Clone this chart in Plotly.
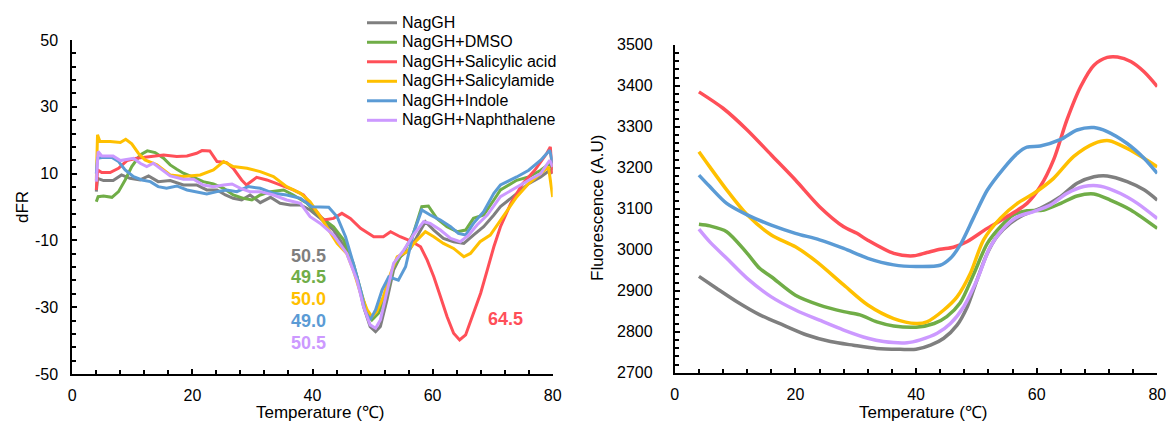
import plotly.graph_objects as go

W, H = 1167, 425

series_names = ["NagGH", "NagGH+DMSO", "NagGH+Salicylic acid",
                "NagGH+Salicylamide", "NagGH+Indole", "NagGH+Naphthalene"]
series_colors = ["#7f7f7f", "#70ad47", "#ff4f58", "#ffc000", "#5b9bd5", "#cc99ff"]

# ---------- Left panel: dFR vs temperature ----------
dfr_t_gray = [4, 4.2, 5.2, 6.8, 8.2, 9.6, 11.3, 12.7, 14.3, 16.3, 18.5, 20.7, 22.4, 24.1, 25.5, 26.8, 28.2, 29.6, 31.3, 33, 34.6, 36.3, 38, 39.6, 41.3, 43.5, 45.7, 47.4, 48.5, 49.6, 50.5, 51.3, 52.4, 53.5, 54.6, 56.3, 57.7, 58.8, 60.2, 61.8, 63.5, 65.2, 66.8, 68.5, 70.2, 71.3, 74, 76, 78, 79.5, 80]
dfr_gray = [4.6, 8.6, 7.9, 7.9, 9.6, 8.6, 8.1, 9.3, 7.6, 7.9, 6.6, 6.6, 5.1, 5.1, 3.6, 2.6, 2.1, 3.6, 1.3, 2.9, 1.1, 0.6, 0.6, -0.9, -3.4, -6.9, -12.9, -20.9, -29.8, -35.8, -37.3, -35.8, -27.8, -18.9, -14.9, -12.4, -7.9, -4.4, -6.9, -9.4, -10.4, -10.9, -8.4, -5.9, -2.4, 0.1, 4, 7, 9, 11, 10]

dfr_t_green = [4, 4.3, 5.2, 6.6, 7.7, 8.8, 9.9, 11.3, 12.5, 13.8, 15.2, 16.3, 17.4, 18.5, 20.2, 21.8, 23.5, 25.2, 26.8, 28.5, 29.9, 31.3, 33, 35.2, 36.8, 39.1, 41.3, 43.5, 45.2, 46.8, 48, 49.1, 49.9, 51, 52.4, 53.5, 55.2, 56.8, 58.2, 59.3, 60.7, 62.4, 64.1, 65.5, 66.8, 68.5, 70.2, 71.3, 74, 76, 78, 79.5, 80]
dfr_green = [1.6, 3.1, 3.3, 2.9, 4.6, 8.1, 12.1, 15.6, 16.8, 16.3, 14.6, 12.6, 11.3, 10.1, 8.9, 7.6, 6.9, 5.6, 3.6, 2.6, 2.1, 3.6, 4.6, 5.1, 3.6, 1.1, -2.9, -5.9, -9.9, -16.9, -24.8, -31.8, -33.8, -31.8, -25.8, -17.9, -13.4, -7.9, 0.1, 0.3, -3.4, -5.9, -7.4, -6.9, -3.4, -2.4, 2.1, 5.1, 8, 9, 11, 13, 11]

dfr_t_red = [4, 4.2, 4.9, 6.3, 7.7, 9.1, 10.7, 12.9, 15.2, 17.4, 19.1, 20.7, 21.6, 22.9, 24.1, 25.7, 26.8, 28.2, 29, 30.7, 32.4, 34.6, 36.8, 38.5, 40.2, 41.8, 43.5, 44.9, 46.3, 48, 50.2, 51.8, 53, 54.6, 56.3, 58, 59.1, 60.2, 61.3, 62.4, 63.5, 64.5, 65.5, 66.6, 68, 69.1, 70.2, 71.3, 73, 75, 77, 79, 79.6, 80]
dfr_red = [5.1, 11.1, 10.3, 10.3, 11.6, 13.9, 14.6, 15.1, 15.6, 15.1, 15.3, 16.1, 16.9, 16.8, 13.6, 13.3, 11.6, 8.1, 6.6, 8.9, 8.1, 6.6, 5.1, 3.6, -0.4, -3.9, -3.4, -1.9, -3.4, -6.4, -8.9, -8.9, -7.4, -8.9, -10.1, -11.9, -15.9, -20.9, -26.8, -32.8, -37.8, -39.8, -38.3, -32.8, -25.8, -18.9, -11.9, -5.9, 1, 7, 11, 16, 18, 10]

dfr_t_yellow = [4, 4.2, 4.6, 6.3, 8, 8.9, 9.9, 11, 12.1, 14.1, 16.3, 18.5, 21.3, 23.5, 25.2, 26.8, 29.1, 31.3, 33.5, 35.7, 38, 39.6, 41.3, 42.4, 44.1, 45.7, 46.8, 48, 49.1, 49.9, 50.7, 51.8, 53, 54.1, 55.7, 57.4, 58.8, 60.2, 61.8, 63.5, 65.2, 66.3, 67.9, 69.6, 71.3, 74, 76, 78, 79.3, 80]
dfr_yellow = [8, 21.6, 19.6, 19.6, 19.3, 20.3, 18.9, 16.1, 14.1, 12.6, 9.6, 9.1, 9.6, 11.1, 13.6, 12.1, 11.6, 10.6, 9.1, 6.1, 4.1, 1.6, -2.9, -5.9, -10.9, -13.9, -18.9, -25.8, -30.8, -32.8, -31.3, -26.8, -19.9, -14.9, -13.4, -9.9, -7.4, -8.9, -10.9, -12.4, -14.9, -13.9, -10.4, -8.4, -3.9, 3, 7, 10, 12, 3]

dfr_t_blue = [4, 4.2, 5.2, 6.6, 7.7, 8.8, 10.2, 11.6, 13, 14.3, 15.7, 17.4, 19.1, 20.7, 22.4, 24.1, 25.7, 27.4, 29.3, 31.3, 33.5, 35.7, 38, 39.9, 41.3, 42.7, 44.1, 45.5, 46.8, 48, 48.8, 49.6, 50.5, 51.6, 52.7, 53.5, 54.3, 55.5, 56.8, 58.2, 59.6, 61.3, 63, 64.3, 65.5, 66.8, 68.5, 70.2, 71.3, 74, 76, 78, 79.5, 80]
dfr_blue = [10, 14.6, 14.9, 14.8, 13.6, 11.1, 9.1, 8.1, 7.6, 6.1, 5.6, 6.3, 5.1, 4.6, 3.9, 4.6, 5.1, 4.6, 6.1, 5.6, 4.1, 3.6, 2.6, 0.1, -0.1, -0.1, -2.9, -8.9, -16.9, -24.8, -31.3, -33.8, -30.8, -24.8, -20.9, -21.4, -21.9, -17.9, -7.9, -0.9, -2.4, -3.9, -5.9, -7.9, -8.4, -4.9, -1.4, 4.1, 6.6, 9, 11, 14, 17, 13]

dfr_t_purple = [4, 4.3, 4.9, 6.8, 8, 9.1, 10.2, 11.3, 12.4, 13.5, 14.6, 16.3, 18.5, 20.2, 21.8, 23.5, 25.2, 26.6, 28, 29.6, 31.3, 33.5, 35.7, 38, 39.6, 41.3, 43.5, 45.7, 47.4, 48.5, 49.6, 50.5, 51.3, 52.4, 53.5, 55.2, 56.8, 58.5, 59.6, 61.3, 63, 64.6, 66, 67.4, 69.1, 71.3, 74, 76, 78, 79.5, 80]
dfr_purple = [7.6, 16.6, 15.3, 15.3, 13.9, 14.3, 14.6, 13.1, 12.1, 13.1, 11.6, 9.3, 8.3, 8.3, 6.6, 6.1, 6.6, 6.9, 5.6, 4.6, 4.6, 3.6, 2.1, 1.1, -2.9, -4.9, -8.4, -13.9, -21.9, -29.8, -35.3, -36.3, -33.8, -25.8, -16.9, -12.9, -8.4, -4.4, -4.9, -6.9, -9.4, -10.4, -8.4, -5.4, -2.4, 3.1, 6, 8, 10, 14, 12]

# ---------- Right panel: fluorescence vs temperature ----------
fl_t_gray = [4, 6.9, 10.3, 14.1, 18, 21.9, 25.8, 29.6, 33.5, 37.4, 40, 42.4, 44.6, 46.8, 48.5, 50.1, 51.8, 53.4, 55.6, 57.8, 60.6, 64, 66.7, 69.5, 71.7, 75, 77.8, 80]
fl_gray = [2935, 2906, 2873, 2841, 2816, 2792, 2776, 2767, 2759, 2757, 2757, 2767, 2784, 2816, 2861, 2926, 2991, 3032, 3064, 3085, 3101, 3130, 3162, 3178, 3180, 3166, 3146, 3121]

fl_t_green = [4, 5.8, 8.6, 12, 14.1, 16, 20, 24, 28, 30.7, 33.5, 36.3, 40, 43, 45.1, 47.3, 49.6, 51.8, 54, 56.2, 58.4, 61.2, 64, 66.7, 69.5, 72.2, 75.6, 80]
fl_green = [3062, 3058, 3044, 2991, 2954, 2934, 2889, 2865, 2849, 2841, 2824, 2814, 2811, 2820, 2837, 2870, 2942, 3015, 3056, 3085, 3095, 3097, 3113, 3131, 3136, 3121, 3097, 3052]

fl_t_red = [4, 8, 12, 16, 20, 24, 28, 30.2, 32, 36.3, 39.6, 41.8, 44, 46.2, 48.5, 51.8, 55.6, 58.4, 60.6, 62.8, 65, 67.3, 69.5, 71.7, 73.4, 75.6, 77.8, 80]
fl_red = [3385, 3345, 3292, 3231, 3170, 3105, 3056, 3040, 3023, 2991, 2985, 2993, 3001, 3006, 3020, 3052, 3085, 3113, 3154, 3219, 3316, 3398, 3450, 3469, 3470, 3459, 3434, 3398]

fl_t_yellow = [4, 5.8, 8.6, 12, 16, 20, 23.5, 28, 32, 36.3, 40, 41.8, 44.6, 46.8, 49, 51.2, 54, 56.8, 59.5, 62.8, 66.1, 69.5, 72, 75, 77.8, 80]
fl_yellow = [3239, 3202, 3146, 3085, 3036, 3007, 2971, 2914, 2865, 2832, 2820, 2824, 2853, 2885, 2942, 3024, 3077, 3113, 3137, 3174, 3227, 3259, 3266, 3247, 3223, 3202]

fl_t_blue = [4, 5.8, 8.6, 12, 16, 20, 24, 28, 32, 36.3, 40, 44, 45.7, 47.3, 49.6, 51.8, 54.5, 56.8, 58.4, 60.6, 64, 66.7, 69.5, 71.7, 75, 77.8, 80]
fl_blue = [3182, 3154, 3113, 3085, 3060, 3040, 3024, 3003, 2979, 2963, 2959, 2962, 2979, 3011, 3080, 3145, 3198, 3235, 3250, 3253, 3269, 3292, 3298, 3288, 3259, 3223, 3186]

fl_t_purple = [4, 5.8, 8.6, 12, 16, 20, 24, 28, 32, 34.6, 38.5, 40.7, 43.5, 45.7, 47.9, 50.1, 52.3, 54.5, 56.8, 59.5, 62.3, 65, 67.8, 70.6, 73.9, 76.7, 80]
fl_purple = [3050, 3019, 2979, 2930, 2885, 2853, 2828, 2804, 2784, 2776, 2773, 2780, 2796, 2820, 2861, 2926, 3007, 3052, 3080, 3093, 3109, 3137, 3154, 3155, 3137, 3113, 3076]

# Tick labels
dfr_tickvals = [-50, -30, -10, 10, 30, 50]
dfr_ticktext = ["-50", "-30", "-10", "10", "30", "50"]

# Tm labels
tm_labels = ["50.5", "49.5", "50.0", "49.0", "50.5"]
tm_colors = ["#7f7f7f", "#70ad47", "#ffc000", "#5b9bd5", "#cc99ff"]
tm_red_label = "64.5"

left_x = [dfr_t_gray, dfr_t_green, dfr_t_red, dfr_t_yellow, dfr_t_blue, dfr_t_purple]
left_y = [dfr_gray, dfr_green, dfr_red, dfr_yellow, dfr_blue, dfr_purple]
right_x = [fl_t_gray, fl_t_green, fl_t_red, fl_t_yellow, fl_t_blue, fl_t_purple]
right_y = [fl_gray, fl_green, fl_red, fl_yellow, fl_blue, fl_purple]

FONT = "Liberation Sans, Arial, sans-serif"

fig = go.Figure()
for i, name in enumerate(series_names):
    fig.add_trace(go.Scatter(x=left_x[i], y=left_y[i], mode="lines",
                             name='<span style="font-size:16px">%s</span>' % name,
                             line=dict(color=series_colors[i], width=3),
                             xaxis="x", yaxis="y", showlegend=True))
for i, name in enumerate(series_names):
    fig.add_trace(go.Scatter(x=right_x[i], y=right_y[i], mode="lines", name=name,
                             line=dict(color=series_colors[i], width=3.5, shape="spline", smoothing=0.8),
                             xaxis="x2", yaxis="y2", showlegend=False))

def px_x(p):
    return p / W

def px_y(p):
    return 1 - p / H

axis_common = dict(showgrid=False, zeroline=False, showline=True, linecolor="black",
                   linewidth=2, ticks="inside", tickcolor="black", ticklen=5, tickwidth=1.5,
                   automargin=False,
                   tickfont=dict(family=FONT, size=16, color="black"))
minor_common = dict(ticks="inside", ticklen=4, tickcolor="black", tickwidth=1.5)

fig.update_layout(
    width=W, height=H,
    margin=dict(l=0, r=0, t=0, b=0, autoexpand=False),
    paper_bgcolor="white", plot_bgcolor="white",
    font=dict(family=FONT, color="black"),
    xaxis=dict(domain=[px_x(72.3), px_x(552.7)], range=[0, 80], tick0=0, dtick=20,
               minor=dict(dtick=4, tick0=0, **minor_common),
               anchor="y", ticklabelstandoff=6, **axis_common),
    yaxis=dict(domain=[px_y(374), px_y(40)], range=[-50, 50],
               tickmode="array", tickvals=dfr_tickvals, ticktext=dfr_ticktext,
               minor=dict(dtick=4, tick0=-50, **minor_common),
               anchor="x", ticklabelstandoff=9, **axis_common),
    xaxis2=dict(domain=[px_x(674.8), px_x(1157.3)], range=[0, 80], tick0=0, dtick=20,
                minor=dict(dtick=4, tick0=0, **minor_common),
                anchor="y2", ticklabelstandoff=6, **axis_common),
    yaxis2=dict(domain=[px_y(372.7), px_y(44.7)], range=[2700, 3500], tick0=2700, dtick=100,
                minor=dict(dtick=20, tick0=2700, **minor_common),
                anchor="x2", ticklabelstandoff=17, **axis_common),
    legend=dict(x=px_x(362), y=px_y(8), xanchor="left", yanchor="top",
                bgcolor="rgba(0,0,0,0)", font=dict(family=FONT, size=12.7, color="black"),
                tracegroupgap=0, itemwidth=30),
)

annotations = [
    dict(text="dFR", x=px_x(22), y=px_y(207), xref="paper", yref="paper", textangle=-90,
         xanchor="center", yanchor="middle",
         showarrow=False, font=dict(family=FONT, size=17, color="black")),
    dict(text="Temperature (℃)", x=px_x(320), y=px_y(412), xref="paper", yref="paper",
         xanchor="center", yanchor="middle",
         showarrow=False, font=dict(family=FONT, size=17, color="black")),
    dict(text="Fluorescence (A.U)", x=px_x(597), y=px_y(208), xref="paper", yref="paper", textangle=-90,
         xanchor="center", yanchor="middle",
         showarrow=False, font=dict(family=FONT, size=17, color="black")),
    dict(text="Temperature (℃)", x=px_x(923), y=px_y(412), xref="paper", yref="paper",
         xanchor="center", yanchor="middle",
         showarrow=False, font=dict(family=FONT, size=17, color="black")),
]
tm_y_px = [256, 277, 299, 321, 343]
for lab, col, yp in zip(tm_labels, tm_colors, tm_y_px):
    annotations.append(dict(text="<b>%s</b>" % lab, x=px_x(308), y=px_y(yp), xref="paper", yref="paper",
                            xanchor="center", yanchor="middle",
                            showarrow=False, font=dict(family=FONT, size=18, color=col)))
annotations.append(dict(text="<b>%s</b>" % tm_red_label, x=px_x(506), y=px_y(319), xref="paper", yref="paper",
                        xanchor="center", yanchor="middle",
                        showarrow=False, font=dict(family=FONT, size=18, color="#ff4f58")))
fig.update_layout(annotations=annotations)

fig.write_html("out.html", config={"displayModeBar": False},
               post_script="document.body.style.margin='0';document.body.style.overflow='hidden';")
